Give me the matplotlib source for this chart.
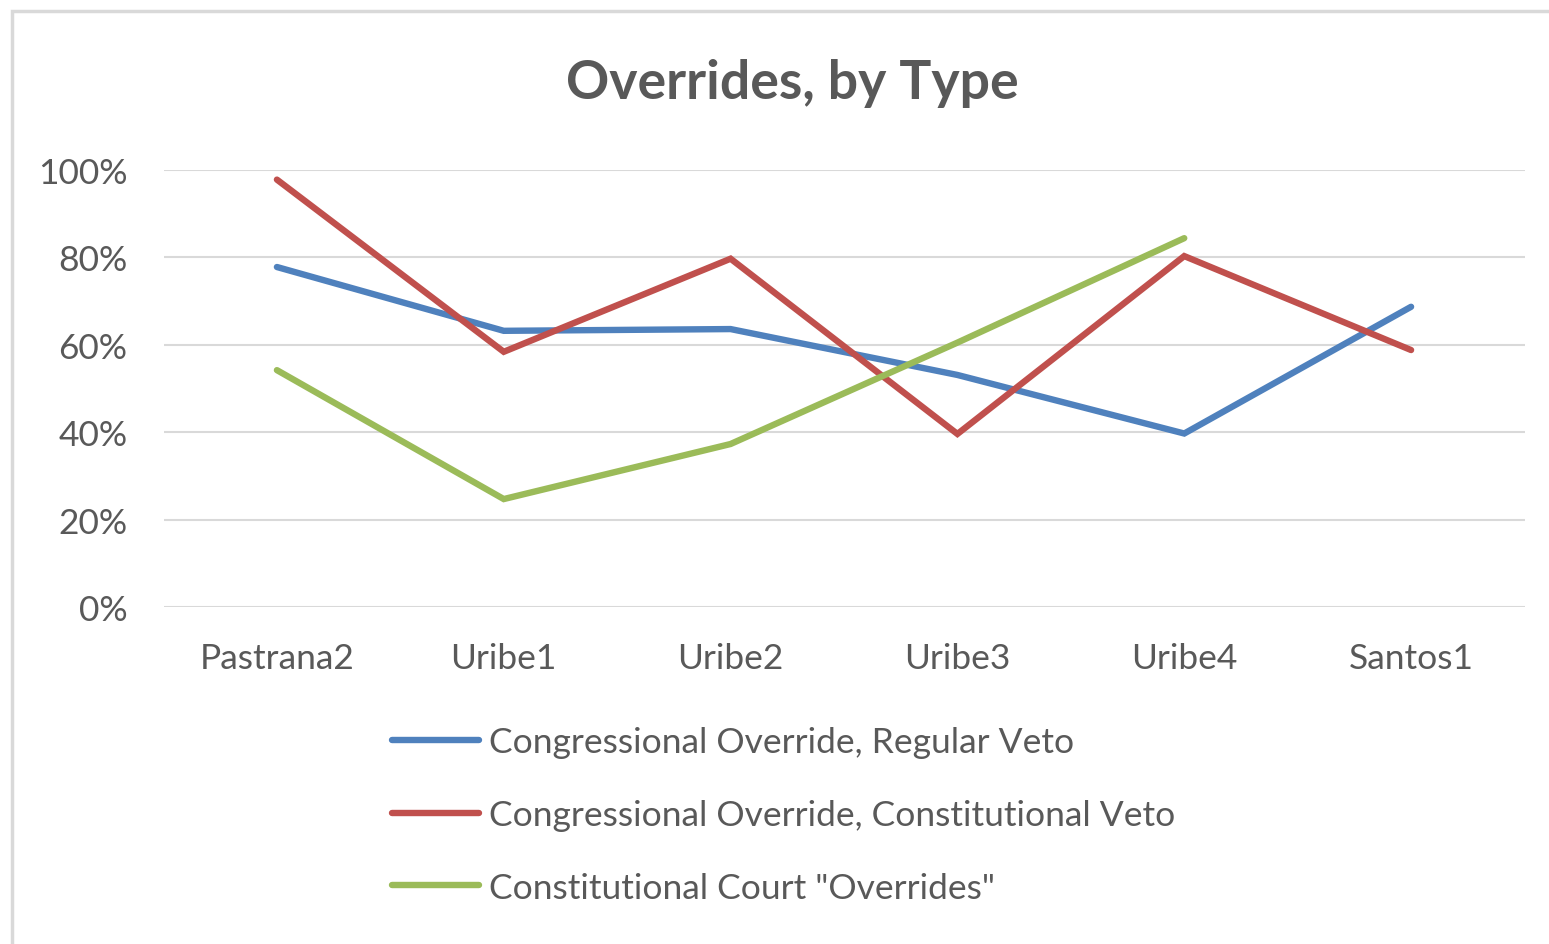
import numpy as np
import matplotlib
matplotlib.use('Agg')
import matplotlib.pyplot as plt
from matplotlib.ticker import PercentFormatter
from matplotlib.patches import Rectangle

plt.rcParams['font.family'] = ['Lato', 'DejaVu Sans']

# values (fractions)
categories = ['Pastrana2', 'Uribe1', 'Uribe2', 'Uribe3', 'Uribe4', 'Santos1']
regular_veto = [0.778, 0.632, 0.636, 0.531, 0.397, 0.687]
constitutional_veto = [0.978, 0.584, 0.797, 0.396, 0.803, 0.588]
court_overrides = [0.542, 0.247, 0.373, 0.605, 0.844, np.nan]
labels = ['Congressional Override, Regular Veto',
          'Congressional Override, Constitutional Veto',
          'Constitutional Court "Overrides"']
yticks = [0, 0.2, 0.4, 0.6, 0.8, 1.0]

text_col = '#595959'
grid_col = '#D9D9D9'
colors = ['#4F81BD', '#C0504D', '#9BBB59']

W, H = 1549, 945
fig = plt.figure(figsize=(W / 100, H / 100), dpi=100)
fig.patches.append(Rectangle((12 / W, -0.1), 1.2, 1.1 - 12 / H,
                             transform=fig.transFigure, fill=False,
                             edgecolor=grid_col, lw=2.5))

ax = fig.add_axes([163.5 / W, 1 - 608 / H, 1361 / W, 437 / H])
x = np.arange(len(categories))
series = [regular_veto, constitutional_veto, court_overrides]
for vals, c, lab in zip(series, colors, labels):
    ax.plot(x, vals, color=c, lw=4.6, solid_capstyle='round',
            solid_joinstyle='miter', label=lab)

ax.set_xlim(-0.5, len(categories) - 0.5)
ax.set_ylim(0, 1)
ax.set_yticks(yticks)
ax.yaxis.set_major_formatter(PercentFormatter(1.0, decimals=0))
ax.set_xticks(x)
ax.set_xticklabels(categories)
ax.tick_params(axis='both', length=0, labelsize=25.5, labelcolor=text_col)
ax.tick_params(axis='y', pad=26)
ax.tick_params(axis='x', pad=25)
ax.grid(axis='y', color=grid_col, lw=1.5)
ax.set_axisbelow(True)
for s in ax.spines.values():
    s.set_visible(False)

fig.text(792 / W, 1 - 83 / H, 'Overrides, by Type', ha='center', va='center',
         fontsize=38.5, fontweight='bold', color=text_col)

fig.legend(loc='center left', bbox_to_anchor=(392 / W, 1 - 816 / H),
           frameon=False, fontsize=25.5, handlelength=2.45, handletextpad=0.28,
           labelspacing=1.15, borderpad=0, borderaxespad=0, labelcolor=text_col)

fig.savefig('out.png', dpi=100, facecolor='white')
